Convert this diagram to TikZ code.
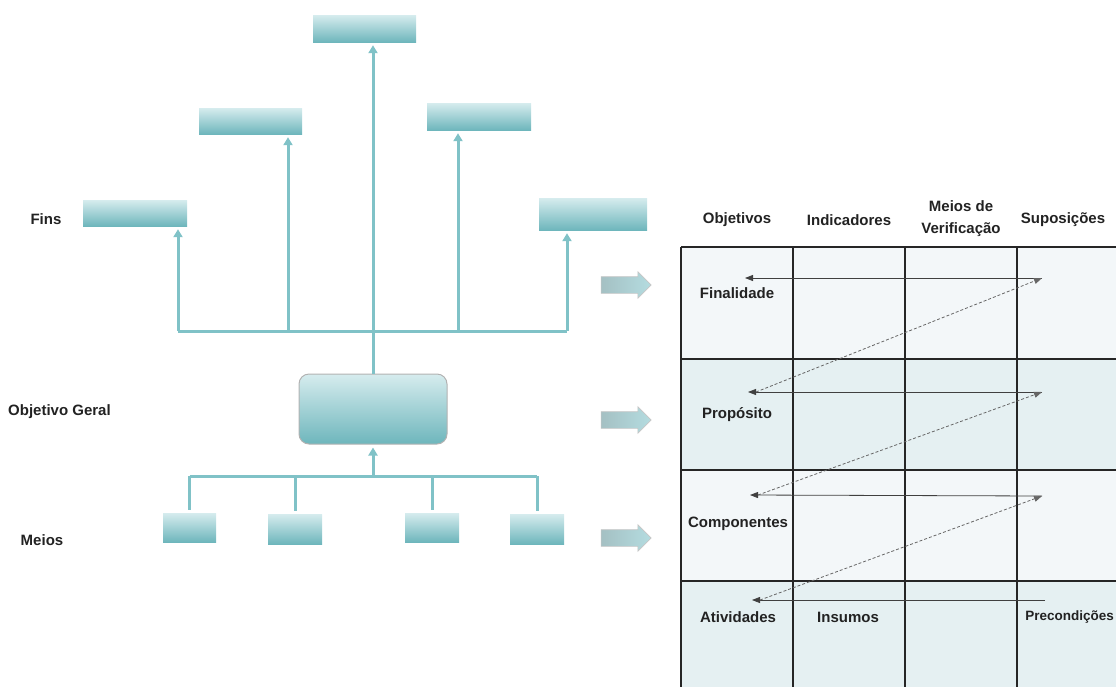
\documentclass[tikz,border=0pt]{standalone}
\usepackage{fontspec}
\setmainfont{Liberation Sans}
\usetikzlibrary{arrows.meta,shapes.arrows}
\definecolor{teallight}{RGB}{214,236,238}
\definecolor{tealdark}{RGB}{110,182,188}
\definecolor{tealline}{RGB}{128,194,199}
\definecolor{rowlight}{RGB}{243,247,249}
\definecolor{rowdark}{RGB}{229,240,242}
\definecolor{arrowfill}{RGB}{180,220,224}
\definecolor{ink}{RGB}{34,34,34}
\begin{document}
\begin{tikzpicture}[x=1pt, y=-1pt, font=\fontsize{15}{17}\selectfont\bfseries, text=ink,
  box/.style={inner sep=0pt, top color=teallight, bottom color=tealdark, draw=none},
  trunk/.style={draw=tealline, line width=3pt},
  up/.style={trunk, -{Triangle[length=8pt,width=9pt]}, shorten >=3pt},
  bigarrow/.style={single arrow, single arrow head extend=5pt,
    minimum height=50pt, inner sep=0pt, left color=gray!30!arrowfill, right color=arrowfill,
    draw=gray!45, line width=0.6pt},
  grid/.style={line width=1.6pt, black!85},
  lbl/.style={inner sep=1pt, align=center},
  pull/.style={line width=0.8pt, black!75, -{Triangle[length=8pt,width=6pt]}},
  back/.style={line width=0.8pt, black!60, dash pattern=on 3pt off 2pt, -{Triangle[length=8pt,width=6pt]}}]
  \useasboundingbox (0,0) rectangle (1116,686);
  \clip (0,0) rectangle (1116,686);
  % arvore de objetivos
  \node[box, minimum width=103pt, minimum height=27pt] (f0) at (364.5,28.5) {};
  \node[box, minimum width=103pt, minimum height=26pt] (f1) at (250.5,121) {};
  \node[box, minimum width=104pt, minimum height=27pt] (f2) at (479,116.5) {};
  \node[box, minimum width=104pt, minimum height=26pt] (f3) at (135,213) {};
  \node[box, minimum width=108pt, minimum height=32pt] (f4) at (593,214) {};
  \node[box, draw=gray!60, line width=1pt, rounded corners=10pt,
    minimum width=148pt, minimum height=70pt] (og) at (373,409) {};
  \node[box, minimum width=53pt, minimum height=29pt] (m1) at (189.5,527.5) {};
  \node[box, minimum width=54pt, minimum height=30pt] (m2) at (295,529) {};
  \node[box, minimum width=54pt, minimum height=29pt] (m3) at (432,527.5) {};
  \node[box, minimum width=54pt, minimum height=30pt] (m4) at (537,529) {};
  % barramentos
  \coordinate (b3) at (178,331); \coordinate (b1) at (288,331);
  \coordinate (b2) at (458,331); \coordinate (b4) at (567,331);
  \coordinate (mb) at (373,476);
  \draw[trunk] (b3) -- (b4);
  \draw[up] (b1) -- (b1 |- f1.south);
  \draw[up] (b2) -- (b2 |- f2.south);
  \draw[up] (b3) -- (b3 |- f3.south);
  \draw[up] (b4) -- (b4 |- f4.south);
  \draw[up] (og.north) -- (og.north |- f0.south);
  \draw[trunk] (m1.north |- mb) -- (m4.north |- mb);
  \foreach \m in {m1,m2,m3,m4}
    \draw[trunk] ([yshift=3pt]\m.north) -- (\m.north |- mb);
  \draw[up] (mb) -- (og.south);
  % rotulos
  \node[lbl] (fins) at (46,219) {Fins};
  \node[lbl] (geral) at (59.5,412) {Objetivo Geral};
  \node[lbl] (meios) at (42,540) {Meios};
  % setas largas
  \node[bigarrow] (s1) at (622,285) {\rule{0pt}{16pt}};
  \node[bigarrow] (s2) at (622,420) {\rule{0pt}{16pt}};
  \node[bigarrow] (s3) at (622,538) {\rule{0pt}{16pt}};
  % matriz
  \fill[rowlight] (681,247) rectangle (1130,359);
  \fill[rowdark] (681,359) rectangle (1130,470);
  \fill[rowlight] (681,470) rectangle (1130,581);
  \fill[rowdark] (681,581) rectangle (1130,700);
  \foreach \x in {681,793,905,1017}
    \draw[grid] (\x,247) -- (\x,700);
  \foreach \y in {247,359,470,581}
    \draw[grid] (681,\y) -- (1130,\y);
  \node[lbl] (h1) at (737,220) {Objetivos};
  \node[lbl] (h2) at (849,220) {Indicadores};
  \node[lbl, font=\fontsize{15}{22}\selectfont\bfseries] (h3) at (961,219) {Meios de\\Verificação};
  \node[lbl] (h4) at (1063,220) {Suposições};
  \node[lbl] (r1) at (737,293) {Finalidade};
  \node[lbl] (r2) at (737,415) {Propósito};
  \node[lbl] (r3) at (738,524) {Componentes};
  \node[lbl] (r4) at (738,617) {Atividades};
  \node[lbl] (ins) at (848,617) {Insumos};
  \node[lbl, anchor=east, font=\fontsize{13.5}{16}\selectfont\bfseries] (pre) at (1115,617) {Precondições};
  % logica vertical
  \coordinate (L1) at (745,278); \coordinate (R1) at (1042,278);
  \coordinate (L2) at (748,392); \coordinate (R2) at (1042,392);
  \coordinate (L3) at (750,495); \coordinate (R3) at (1042,496);
  \coordinate (L4) at (752,600); \coordinate (R4) at (1045,600);
  \draw[pull] (R1) -- (L1);
  \draw[pull] (R2) -- (L2);
  \draw[pull] (R3) -- (L3);
  \draw[pull] (R4) -- (L4);
  \draw[back] ([xshift=8pt]L2) -- (R1);
  \draw[back] ([xshift=8pt]L3) -- (R2);
  \draw[back] ([xshift=8pt]L4) -- (R3);
\end{tikzpicture}
\end{document}
